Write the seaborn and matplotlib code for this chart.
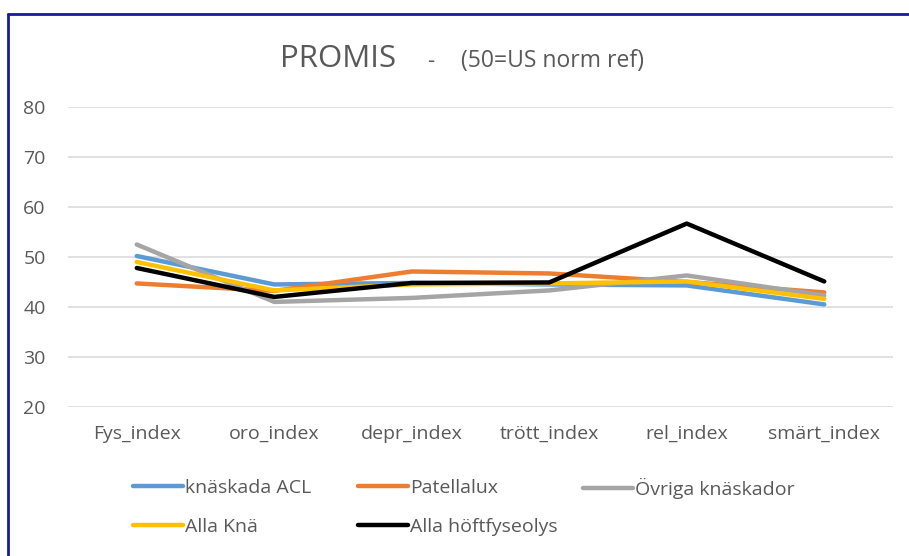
import pandas as pd
import numpy as np
import matplotlib
matplotlib.use('Agg')
import matplotlib.pyplot as plt
import seaborn as sns
from matplotlib.lines import Line2D

# PROMIS index per group
categories = ["Fys_index", "oro_index", "depr_index", "trött_index", "rel_index", "smärt_index"]
acl = [50.2, 44.5, 44.8, 44.5, 44.3, 40.5]
patellalux = [44.7, 43.2, 47.1, 46.7, 45.0, 42.9]
ovriga = [52.5, 41.0, 41.8, 43.3, 46.3, 42.3]
alla_kna = [49.0, 43.3, 44.5, 44.7, 45.1, 41.6]
alla_hoft = [47.8, 42.0, 44.8, 44.9, 56.7, 45.1]

series_names = ["knäskada ACL", "Patellalux", "Övriga knäskador", "Alla Knä", "Alla höftfyseolys"]
series_vals = [acl, patellalux, ovriga, alla_kna, alla_hoft]
colors = ["#5B9BD5", "#ED7D31", "#A5A5A5", "#FFC000", "#000000"]
yticks = [20, 30, 40, 50, 60, 70, 80]

rows = []
for name, vals in zip(series_names, series_vals):
    for cat, v in zip(categories, vals):
        rows.append({"index": cat, "value": v, "grupp": name})
df = pd.DataFrame(rows)

sns.set_theme(style="white")
plt.rcParams['font.family'] = ['Open Sans', 'DejaVu Sans']
txt = "#595959"
fs = 14

fig = plt.figure(figsize=(9.09, 5.56), dpi=100)
ax = fig.add_axes([68/909, 1-406.7/556, (893-68)/909, (406.7-107.3)/556])

ax.set_axisbelow(True)
for y in yticks:
    ax.axhline(y, color="#D9D9D9", lw=1.1, zorder=0)

sns.lineplot(data=df, x="index", y="value", hue="grupp", hue_order=series_names,
             palette=colors, sort=False, lw=3.2, ax=ax, legend=False, zorder=3)

ax.set_xlim(-0.5, len(categories) - 0.5)
ax.set_ylim(20, 80)
ax.set_yticks(yticks)
ax.set_xticks(range(len(categories)))
ax.set_xticklabels(categories)
ax.set_xlabel("")
ax.set_ylabel("")
for s in ax.spines.values():
    s.set_visible(False)
ax.tick_params(axis="y", length=0, pad=16, labelsize=fs, labelcolor=txt)
ax.tick_params(axis="x", length=0, pad=13, labelsize=fs, labelcolor=txt)

# title
ty = 1 - 67/556
fig.text(280/909, ty, "PROMIS", fontsize=22.5, color=txt, ha="left", va="baseline")
fig.text(427/909, ty, "-", fontsize=16, color=txt, ha="left", va="baseline")
fig.text(461/909, ty, "(50=US norm ref)", fontsize=16.5, color=txt, ha="left", va="baseline")

# legend: one entry per slot, like the fixed grid in the original
slots = [(133, 488), (358, 488), (583, 488), (133, 527), (358, 527)]
for i, (px, py) in enumerate(slots):
    h = Line2D([], [], color=colors[i], lw=3.2)
    leg = fig.legend([h], [series_names[i]], loc="center left",
                     bbox_to_anchor=(px/909, 1-py/556), frameon=False, fontsize=fs,
                     handlelength=2.55, handletextpad=0.12, borderaxespad=0, borderpad=0)
    for t in leg.get_texts():
        t.set_color(txt)

# blue frame around the chart (only left and top visible in crop)
frame_col = "#1A1AA0"
fig.add_artist(Line2D([8/909, 8/909], [0, 1-14/556], color=frame_col, lw=2, transform=fig.transFigure))
fig.add_artist(Line2D([8/909, 1], [1-14/556, 1-14/556], color=frame_col, lw=2, transform=fig.transFigure))

fig.savefig("out.png", dpi=100)
plt.close(fig)
